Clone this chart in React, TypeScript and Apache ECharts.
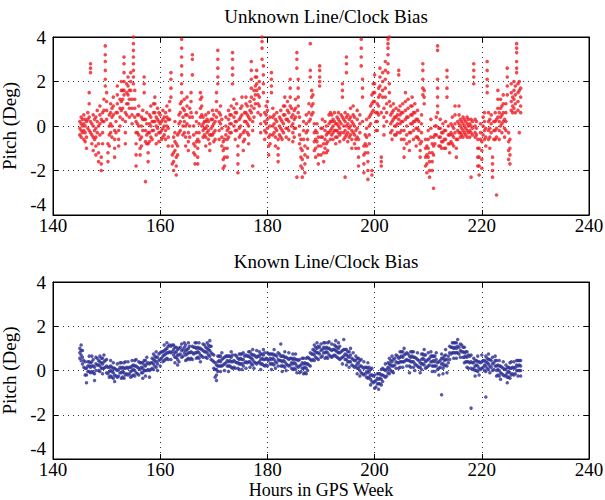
import React, { useEffect, useRef } from "react";
import * as echarts from "echarts";

// Sample columns: one column every COLUMN_STEP hours starting at START_HOUR,
// each column lists the pitch values (deg) read at that time.
const START_HOUR = 145;
const COLUMN_STEP = 0.25;

const X_MIN = 140;
const X_MAX = 240;
const X_INTERVAL = 20;
const Y_MIN = -4;
const Y_MAX = 4;
const Y_INTERVAL = 2;

const TOP_TITLE = "Unknown Line/Clock Bias";
const BOTTOM_TITLE = "Known Line/Clock Bias";
const Y_NAME = "Pitch (Deg)";
const X_NAME = "Hours in GPS Week";

const UNKNOWN_PITCH: number[][] = [
  [0.2,-0.1,-0.4],[0.4,0.1,-0.2,-0.5],[0.0,-0.3,0.3],[-0.6,-0.2,0.1,0.5],
  [0.3,0.0,-0.3,-0.7],[-1.0,-0.5,0.2],[0.6,0.3,-0.1],[1.5,1.0,0.4,-0.2],
  [2.8,2.6,2.4,0.2,-0.3],[0.1,-0.4,-0.8],[0.5,0.0,-0.5,-1.1],[0.3,-0.2,-0.6],
  [0.4,-0.1,-0.5,-0.9,-1.3],[0.7,0.2,-0.3],[-0.8,-1.2,-1.6,0.0],[0.9,0.5,0.1,-0.4],
  [-1.4,-1.7,-2.0,0.3],[0.6,0.2,-0.3,-0.8],[1.2,0.7,0.2],[3.6,3.2,2.9,2.5,2.1,1.8],
  [1.5,1.1,0.7,0.3],[-0.8,-1.2,-1.6],[0.5,0.0,-0.4,-0.9],[1.0,0.6,0.1,-0.3],
  [0.8,0.4,0.0,-0.5],[1.3,0.9,0.5],[-0.2,-0.6,-1.0,-1.4],[0.6,0.2,-0.3],
  [1.8,1.4,1.0,0.6],[-0.2,-0.6,-0.9],[1.2,0.8,0.4,0.0],[2.0,1.6,1.1,0.7],
  [1.6,1.2,0.8,0.3],[3.1,2.8,2.4,2.0,1.6,1.4],[0.6,0.2,-0.3,-0.8],[1.9,1.5,1.0,0.5],
  [2.2,1.8,1.4,1.0],[1.6,1.2,0.8,0.4],[2.4,2.0,1.6],[1.2,0.8,0.5,0.1],
  [4.0,3.7,3.4,3.1,2.8,2.5,2.2,1.9],[1.6,1.2,0.8,0.4],[0.2,-0.3,-0.8,-1.3,-1.8],[0.5,0.1,-0.3],
  [0.9,0.5,0.0,-0.4],[-0.6,-1.0,-1.3],[0.4,0.0,-0.5,-0.9],[0.7,0.3,-0.2],
  [2.2,1.9,1.5,0.3],[-2.5,-0.7,-0.2,0.3],[0.6,0.1,-0.4,-0.8],[-0.3,-0.8,-1.2,-1.6],
  [0.5,0.1,-0.3,-0.7],[0.9,0.4,0.0,-0.5],[0.2,-0.2,-0.6],[1.0,0.6,0.2,-0.2],
  [1.3,1.0,0.6,0.2],[0.4,0.0,-0.4,-0.8],[0.8,0.3,-0.1],[-0.3,-0.7,0.2,0.6],
  [0.5,0.1,-0.3],[0.2,-0.2,-0.6],[0.7,0.3,-0.1,-0.5],[0.0,-0.4,0.4],
  [0.6,0.2,-0.2,-0.6],[0.9,0.4,0.0],[0.3,-0.1,-0.5,-0.9],[1.1,0.7,0.3],
  [2.4,2.1,1.7,1.3],[-0.9,-1.3,-1.7],[-1.2,-1.6,-2.0,-0.5],[0.2,-0.3,-0.7,-1.1],
  [-1.4,-1.8,-2.2,-0.8],[-0.4,-0.9,-1.3],[0.5,0.1,-0.3],[1.0,0.6,0.2,-0.2],
  [3.9,3.5,3.1,2.7,2.3,1.9,1.5,1.1],[0.8,0.4,0.0,-0.4],[1.2,0.7,0.2,-0.3],[0.5,0.0,-0.5,-0.9],
  [1.3,0.9,0.5,0.1],[-0.3,-0.7,-1.1],[0.8,0.4,0.0,-0.5],[1.5,1.1,0.6],
  [3.2,3.0,2.3,0.4],[0.0,-0.4,-0.8,-1.2],[-0.9,-1.3,-1.7],[0.2,-0.3,-0.7,0.6],
  [-0.6,-1.0,-1.4,-1.7],[0.1,-0.3,-0.7],[1.5,1.2,0.8,0.4],[1.3,0.9,0.5,0.0],
  [0.4,0.1,-0.2,-0.5],[0.2,-0.1,-0.4],[0.5,0.2,-0.1,-0.5,-0.9],[0.3,0.0,-0.3],
  [0.6,0.2,-0.2,-0.6],[-0.4,-0.8,-1.1],[0.3,-0.1,-0.4],[0.7,0.3,0.0,-0.4],
  [0.5,0.1,-0.3,-0.7],[0.2,-0.2,-0.6],[1.5,1.1,0.7,0.4],[3.4,3.0,2.6,2.2,1.9],
  [0.6,0.2,-0.2,-0.6],[0.9,0.5,0.1],[0.3,-0.1,-0.5,-0.9],[-0.7,-1.1,-1.5,-1.9],
  [-0.6,-1.0,-1.4,-1.8],[0.4,0.0,-0.4],[-0.2,-0.6,-1.0,-1.4],[0.7,0.3,-0.1,-0.5],
  [0.5,0.1,-0.3],[0.9,0.5,0.1,-0.3],[3.3,3.0,2.6,2.3,1.9],[1.2,0.8,0.4,0.0],
  [0.6,0.2,-0.2,-0.6],[1.0,0.6,0.2,-0.2],[-0.9,-1.3,-1.7,-2.1],[0.3,-0.1,-0.5],
  [0.8,0.4,0.0,-0.4],[1.3,0.9,0.5],[-0.3,-0.7,-1.1],[0.6,0.2,-0.2,-0.6],
  [1.3,1.0,0.6,0.2],[0.9,0.5,0.1,-0.3],[0.4,0.0,-0.4,-0.8],[1.1,0.7,0.3],
  [2.9,2.5,2.1,1.7,1.3,0.9,0.6],[-1.8,0.2,-0.2],[1.6,1.2,0.8,0.4],[2.2,1.8,1.4,1.0],
  [2.5,2.2,1.9,1.6],[1.4,1.0,0.6],[2.0,1.7,1.3,0.9],[0.5,0.1,-0.3],
  [4.0,3.8,3.5,3.0],[2.7,2.3,1.9,1.5],[0.6,0.2,-0.2,-0.6],[0.9,0.5,0.1,-0.3],
  [1.1,0.7,0.3,-0.1],[-0.5,-0.9,-1.3],[0.4,0.0,-0.4,-0.8],[2.4,2.1,1.8,1.5],
  [0.8,0.4,0.0,-0.4],[0.5,0.1,-0.3],[0.3,-0.1,-0.5,-0.9],[0.6,0.2,-0.2],
  [-0.6,-1.0,-1.3,-1.6],[0.4,0.0,-0.4],[0.7,0.3,-0.1,-0.5],[0.2,-0.2,-0.6],
  [0.9,0.5,0.1,-0.3],[1.3,0.9,0.5],[0.3,-0.1,-0.5],[1.1,0.7,0.3,-0.1],
  [0.6,0.2,-0.2,-0.6],[2.1,1.7,1.3,0.9],[0.8,0.4,0.0],[-0.3,-0.7,0.5,0.1],
  [0.7,0.3,-0.1,-0.5],[1.2,0.8,0.4,-0.1],[3.3,3.0,2.6,-2.3],[2.1,1.7,1.3,0.9,0.6],
  [0.4,0.0,-0.4,-0.8],[-0.6,-1.0,-1.4,-1.8],[-1.1,-1.5,-1.9,-2.3],[0.2,-0.2,-0.6],
  [-0.9,-1.3,-1.7,-2.1],[0.5,0.1,-0.3],[-0.2,-0.6,-1.0,-1.4],[1.0,0.6,0.2],
  [3.7,2.5,2.2,0.3],[1.6,1.3,0.9,0.5],[1.4,1.0,0.6],[0.1,-0.3,-0.7,-1.1],
  [-0.2,-0.6,-1.0,-1.4],[0.1,-0.3,-0.7],[-0.5,-0.9,-1.3,-1.7],[2.7,2.5,2.2,2.0,1.8],
  [-0.1,-0.5,-0.9,-1.3],[0.3,-0.1,-0.5],[-0.8,-1.2,-1.6],[0.2,-0.2,-0.6,-1.0],
  [0.0,-0.4,-0.8,-1.2],[-0.3,-0.7,-1.1],[0.5,0.1,-0.3],[0.6,0.2,-0.2,-0.6],
  [0.5,0.2,-0.1,-0.4],[0.3,0.0,-0.3,-0.6],[0.6,0.2,-0.2],[0.1,-0.2,-0.5,-0.8],
  [0.4,0.1,-0.2,-0.5],[0.6,0.3,0.0,-0.3],[0.2,-0.1,-0.4,-0.7],[0.5,0.1,-0.3],
  [1.9,1.6,1.3,0.4],[0.3,0.0,-0.3,-0.6],[0.6,0.2,-0.2,-0.5,-2.3],[3.1,2.8,2.4,0.4,0.0,-0.4],
  [0.5,0.1,-0.3,-0.7],[0.3,-0.1,-0.5],[0.8,0.4,0.0,-0.4],[0.2,-0.2,-0.6,-1.0],
  [0.9,0.5,0.1,-0.3],[0.4,0.0,-0.4,-0.8],[-0.2,-0.6,-1.0],[0.7,0.3,-0.1,-0.5],
  [-0.6,-1.0,-1.4,-1.8],[0.5,0.1,-0.3],[3.9,3.5,3.1,2.7],[2.1,1.7,1.3,0.2],
  [-0.9,-1.3,-1.7,-2.1],[-0.4,-0.8,-1.2],[0.3,-0.1,-0.5,-0.9],[-1.2,-1.6,-2.0,-2.4],
  [0.4,0.0,-0.4,-0.8],[0.9,0.5,0.1],[-2.0,-2.2,1.4,1.0,0.6],[1.9,1.5,1.1,0.7],
  [2.3,1.9,1.5,1.1],[0.6,0.2,-0.2],[1.0,0.6,0.2,-0.2],[1.7,1.3,0.9,0.5],
  [2.6,2.2,1.8,1.4],[-1.4,-1.6,-1.8,0.6],[2.4,2.0,1.6,1.3],[0.8,0.4,0.0,-0.4],
  [2.9,2.5,2.1,1.7,1.3],[1.0,0.6,0.2],[3.9,3.7,3.5,3.2,2.8,2.4],[4.0,1.9,1.5,1.1],
  [0.9,0.5,0.1,-0.3],[0.6,0.2,-0.2,-0.6],[1.0,0.7,0.3],[0.4,0.0,-0.4],
  [0.8,0.4,0.0,-0.4],[0.5,0.1,-0.3],[2.5,2.3,0.7,0.3],[0.9,0.5,0.1,-0.3],
  [0.6,0.2,-0.2,-0.6],[1.0,0.6,0.2],[-0.2,-0.6,-1.0,-1.4],[1.5,1.1,0.7,0.3],
  [0.4,0.0,-0.4,-0.8],[1.2,0.8,0.4],[-0.3,-0.7,-1.1],[0.9,0.5,0.1,-0.3],
  [1.3,0.9,0.5,0.1],[0.6,0.2,-0.2,-0.6],[1.0,0.6,0.2],[0.3,-0.1,-0.5,-0.9],
  [0.7,0.3,-0.1,-0.5],[0.2,-0.2,-0.6],[-0.8,-1.1,-1.4],[0.5,0.1,-0.3,-0.7],
  [2.8,2.5,2.1,1.7,1.4],[1.6,1.3,1.0],[-0.6,-1.0,-1.4,-1.8],[-0.9,-1.3,-1.7,-2.1],
  [-0.2,-0.6,-1.0,-1.4],[-1.2,-1.6,-2.0,-2.3],[0.3,-0.1,-0.5],[-0.8,-1.2,-1.6,-2.0],
  [-2.8,-0.5,-0.9,-1.3],[0.0,-0.4,-0.8],[0.4,0.0,-0.4],[3.6,3.4,2.1,1.7,1.3,0.9,0.6],
  [-0.1,-0.5,-0.9],[0.3,-0.1,-0.5,-0.9],[-0.3,-0.7,-1.0],[0.1,-0.3,-0.7],
  [-0.2,-0.6,-1.0],[0.2,-0.2,-0.6,-1.0],[2.5,2.2,1.7,1.3],[0.0,-0.4,-0.8],
  [-0.4,-0.8,-1.2],[0.1,-0.3,-0.7],[0.4,0.0,-0.4,-0.8],[-0.1,-0.5,-0.9],
  [0.9,0.5,0.1,-0.3],[-0.6,-1.0,-1.4],[0.2,-0.2,-0.6],[0.9,0.5,0.1,-0.3],
  [0.3,0.0,-0.3,-0.5],[0.2,-0.1,-0.4],[0.4,0.1,-0.2,-0.5],[0.3,0.0,-0.3],
  [0.2,-0.1,-0.4],[0.4,0.1,-0.2,-0.5],[0.3,0.0,-0.3],[0.1,-0.2,-0.5],
  [0.3,0.0,-0.3,-2.3],[0.2,-0.1,-0.4],[2.8,2.5,2.2,1.9],[0.3,0.0,-0.3,-0.5],
  [0.2,-0.1,-0.4],[-0.6,-1.0,-1.4,-1.8],[-1.0,-1.4,-1.8,-2.2],[0.1,-0.3,-0.6],
  [-0.7,-1.1,-1.5,-1.9],[0.4,0.0,-0.4],[0.6,0.2,-0.2,-0.6],[-0.1,-0.5,-0.9],
  [2.9,2.5,2.1,1.8,1.5],[0.6,0.2,-0.2,-0.6],[0.3,-0.1,-0.5,-1.0],[0.5,0.1,-0.3],
  [-1.4,-1.7,-2.0,-2.3],[0.2,-0.2,-0.6],[0.6,0.2,-0.2,-0.6],[0.3,-0.1,-0.5,-3.1],
  [1.6,1.2,0.8,0.4],[0.6,0.2,-0.2,-0.6],[1.2,0.8,0.4,0.0],[0.9,0.5,0.1,-0.3],
  [1.4,1.0,0.6,0.2],[0.3,-0.1,-0.5],[1.0,0.6,0.2,-0.2],[2.6,2.2,1.8,1.4],
  [-0.3,-0.7,-1.1,-1.5],[-0.6,-1.0,-1.3,-1.7],[1.9,1.5,1.1,0.7],[1.3,0.9,0.6],
  [2.0,1.6,1.2,0.8],[1.8,1.4,1.0,0.6],[3.7,3.5,3.3,2.9,2.6,2.4],[1.9,1.5,1.1,0.7],
  [2.0,1.6,-0.3],[1.7,1.3,0.9,0.6],
];

const KNOWN_PITCH: number[][] = [
  [1.0,0.8,0.55],[1.15,0.9,0.7,0.45],[0.9,0.6,0.3],[0.45,0.15],
  [0.4,0.1,-0.2],[0.1,-0.2,-0.55],[0.4,0.2,-0.05],[0.65,0.4,0.2,-0.05],
  [0.35,0.15,-0.1],[0.65,0.4,0.2,-0.05],[0.5,0.2,-0.1],[0.15,-0.15,-0.45],
  [0.6,0.3,0.0],[0.55,0.25],[0.45,0.25,0.0],[0.65,0.4,0.2,-0.05],
  [0.55,0.35,0.1],[0.55,0.3,0.1,-0.15],[0.7,0.4,0.1],[0.45,0.15],
  [0.5,0.2,-0.1],[0.15,-0.15],[0.15,-0.05,-0.3],[0.45,0.2,0.0,-0.25],
  [0.15,-0.05,-0.3],[0.35,0.1,-0.1,-0.35],[0.1,-0.2,-0.5],[0.05,-0.25],
  [0.3,0.0,-0.3],[0.05,-0.25],[0.35,0.15,-0.1],[0.35,0.1,-0.1,-0.35],
  [0.15,-0.05,-0.3],[0.35,0.1,-0.1,-0.35],[0.4,0.1,-0.2],[0.15,-0.15],
  [0.4,0.1,-0.2],[0.15,-0.15],[0.15,-0.05,-0.3],[0.45,0.2,0.0,-0.25],
  [0.25,0.05,-0.2],[0.45,0.2,0.0,-0.25],[0.5,0.2,-0.1],[0.15,-0.15],
  [0.4,0.1,-0.2],[0.35,0.05],[0.35,0.15,-0.1],[0.35,0.1,-0.1,-0.35],
  [0.45,0.25,0.0],[0.45,0.2,0.0,-0.25],[0.6,0.3,0.0],[0.35,0.05],
  [0.3,0.0,-0.3],[0.35,0.05],[0.55,0.35,0.1],[0.75,0.5,0.3,0.05],
  [0.65,0.45,0.2],[0.85,0.6,0.4,0.15],[0.6,0.3,0.0],[0.75,0.45],
  [0.8,0.5,0.2],[0.85,0.55],[0.85,0.65,0.4],[1.15,0.9,0.7,0.45],
  [0.95,0.75,0.5],[1.25,1.0,0.8,0.55],[1.1,0.8,0.5],[1.15,0.85],
  [1.1,0.8,0.5],[1.15,0.85],[1.15,0.95,0.7],[1.05,0.8,0.6,0.35],
  [1.05,0.85,0.6],[0.95,0.7,0.5,0.25],[1.0,0.7,0.4],[1.05,0.75],
  [1.2,0.9,0.6],[0.95,0.65],[1.25,1.05,0.8],[1.15,0.9,0.7,0.45],
  [0.95,0.75,0.5],[1.25,1.0,0.8,0.55],[1.1,0.8,0.5],[0.85,0.55],
  [1.1,0.8,0.5],[1.05,0.75],[1.25,1.05,0.8],[1.25,1.0,0.8,0.55],
  [1.05,0.85,0.6],[1.25,1.0,0.8,0.55],[1.0,0.7,0.4],[0.95,0.65],
  [1.2,0.9,0.6],[1.15,0.85],[1.05,0.85,0.6],[1.25,1.0,0.8,0.55],
  [1.15,0.95,0.7],[1.35,1.1,0.9,0.65],[1.1,0.8,0.5],[0.75,0.45],
  [0.7,0.4,0.1],[0.35,0.05,-0.3],[0.25,0.05,-0.2,-0.45],[0.65,0.4,0.2,-0.05],
  [0.65,0.45,0.2],[0.65,0.4,0.2,-0.05],[0.8,0.5,0.2],[0.55,0.25],
  [0.6,0.3,0.0],[0.65,0.35],[0.65,0.45,0.2],[0.65,0.4,0.2,-0.05],
  [0.65,0.45,0.2],[0.85,0.6,0.4,0.15],[0.7,0.4,0.1],[0.45,0.15],
  [0.7,0.4,0.1],[0.65,0.35],[0.55,0.35,0.1],[0.75,0.5,0.3,0.05],
  [0.75,0.55,0.3],[0.75,0.5,0.3,0.05],[0.8,0.5,0.2],[0.65,0.35],
  [0.7,0.4,0.1],[0.65,0.35],[0.85,0.65,0.4],[0.85,0.6,0.4,0.15],
  [0.75,0.55,0.3],[0.95,0.7,0.5,0.25],[0.7,0.4,0.1],[0.65,0.35],
  [0.9,0.6,0.3],[0.65,0.35],[0.85,0.65,0.4],[0.75,0.5,0.3,0.05],
  [0.75,0.55,0.3],[0.95,0.7,0.5,0.25],[0.8,0.5,0.2],[0.55,0.25],
  [0.8,0.5,0.2],[0.75,0.45],[0.75,0.55,0.3],[0.75,0.5,0.3,0.05],
  [0.75,0.55,0.3],[0.95,0.7,0.5,0.25],[0.7,0.4,0.1],[0.65,0.35],
  [0.8,0.5,0.2],[0.75,0.45],[1.2,0.65,0.45,0.2],[0.65,0.4,0.2,-0.05],
  [0.65,0.45,0.2],[0.85,0.6,0.4,0.15],[0.6,0.3,0.0],[0.55,0.25],
  [0.8,0.5,0.2],[0.55,0.25],[0.55,0.35,0.1],[0.75,0.5,0.3,0.05],
  [0.55,0.35,0.1],[0.75,0.5,0.3,0.05],[0.5,0.2,-0.1],[0.45,0.15],
  [0.5,0.2,-0.1],[0.25,-0.05],[0.55,0.35,0.1],[0.55,0.3,0.1,-0.15],
  [0.35,0.15,-0.1],[0.55,0.3,0.1,-0.15],[0.6,0.3,0.0],[0.55,0.25],
  [0.8,0.5,0.2],[0.75,0.45],[0.95,0.75,0.5],[1.15,0.9,0.7,0.45],
  [1.05,0.85,0.6],[1.25,1.0,0.8,0.55],[1.1,0.8,0.5],[1.05,0.75],
  [1.2,0.9,0.6],[0.95,0.65],[1.25,1.05,0.8],[1.25,1.0,0.8,0.55],
  [1.05,0.85,0.6],[1.25,1.0,0.8,0.55],[1.3,1.0,0.7],[0.95,0.65],
  [1.2,0.9,0.6],[0.95,0.65],[1.15,0.95,0.7],[1.35,1.1,0.9,0.65],
  [1.05,0.85,0.6],[1.25,1.0,0.8,0.55],[1.1,0.8,0.5],[0.85,0.55],
  [0.9,0.6,0.3],[1.4,0.95,0.65],[0.95,0.75,0.5],[0.95,0.7,0.5,0.25],
  [0.85,0.65,0.4],[0.85,0.6,0.4,0.15],[1.0,0.7,0.4],[0.55,0.25],
  [0.8,0.5,0.2],[0.45,0.15],[0.65,0.45,0.2],[0.55,0.3,0.1,-0.15],
  [0.55,0.35,0.1],[0.45,0.2,0.0,-0.25],[0.5,0.2,-0.1],[0.15,-0.15],
  [0.4,0.1,-0.2],[0.15,-0.15],[0.15,-0.05,-0.3],[0.35,0.1,-0.1,-0.35],
  [0.15,-0.05,-0.3],[0.05,-0.2,-0.4,-0.65],[0.1,-0.2,-0.5],[-0.25,-0.55],
  [-0.2,-0.5,-0.8],[-0.45,-0.75],[-0.15,-0.35,-0.6],[-0.15,-0.4,-0.6,-0.85],
  [-0.15,-0.35,-0.6],[0.05,-0.2,-0.4,-0.65],[0.1,-0.2,-0.5],[0.05,-0.25],
  [0.3,0.0,-0.3],[0.05,-0.25],[0.35,0.15,-0.1],[0.55,0.3,0.1,-0.15],
  [0.45,0.25,0.0],[0.65,0.4,0.2,-0.05],[0.5,0.2,-0.1],[0.55,0.25],
  [0.7,0.4,0.1],[0.65,0.35],[0.55,0.35,0.1],[0.85,0.6,0.4,0.15],
  [0.85,0.65,0.4],[0.85,0.6,0.4,0.15],[1.0,0.7,0.4],[0.75,0.45],
  [0.8,0.5,0.2],[0.75,0.45],[0.65,0.45,0.2,-0.1],[0.85,0.6,0.4,0.15],
  [0.85,0.65,0.4],[0.85,0.6,0.4,0.15],[0.6,0.3,0.0],[0.55,0.25],
  [0.8,0.5,0.2],[0.45,0.15],[0.35,0.15,-0.1],[0.75,0.5,0.3,0.05],
  [0.75,0.55,0.3],[0.95,0.7,0.5,0.25],[0.7,0.4,0.1],[0.45,0.15],
  [0.8,0.5,0.2],[0.55,0.25],[0.85,0.65,0.4],[0.65,0.4,0.2,-0.05],
  [0.65,0.45,0.2],[0.65,0.4,0.2,-0.05],[0.8,0.5,0.2],[0.35,0.05],
  [0.4,0.1,-0.2],[0.45,0.15],[0.75,0.55,0.3,-1.1],[0.55,0.3,0.1,-0.15],
  [0.65,0.45,0.2],[0.95,0.7,0.5,0.25],[0.5,0.2,-0.1],[0.65,0.35],
  [1.1,0.8,0.5],[1.05,0.75],[1.25,1.05,0.8],[1.25,1.0,0.8,0.55],
  [1.25,1.05,0.8],[1.25,1.0,0.8,0.55],[1.4,1.1,0.8],[1.05,0.75],
  [1.2,0.9,0.6],[1.15,0.85],[1.05,0.85,0.6],[1.05,0.8,0.6,0.35],
  [0.85,0.65,0.4],[0.85,0.6,0.4,0.15],[0.7,0.4,0.1],[0.65,0.35],
  [0.7,0.4,0.1,-1.7],[0.35,0.05],[0.55,0.35,0.1],[0.45,0.2,0.0,-0.25],
  [0.45,0.25,0.0],[0.65,0.4,0.2,-0.05],[0.4,0.1,-0.2],[0.35,0.05],
  [0.7,0.4,0.1],[0.45,0.15],[0.45,0.25,0.0],[0.65,0.4,0.2,-0.05,-1.2],
  [0.55,0.35,0.1],[0.75,0.5,0.3,0.05],[0.5,0.2,-0.1],[0.45,0.15],
  [0.6,0.3,0.0],[0.35,0.05],[0.65,0.45,0.2],[0.45,0.2,0.0,-0.25],
  [0.25,0.05,-0.2],[0.45,0.2,0.0,-0.25],[0.2,-0.1,-0.4],[0.15,-0.15],
  [0.4,0.1,-0.2],[0.05,-0.25],[0.25,0.05,-0.2],[0.15,-0.1,-0.3,-0.55],
  [0.15,-0.05,-0.3],[0.35,0.1,-0.1,-0.35],[0.4,0.1,-0.2],[0.15,-0.15],
  [0.4,0.1,-0.2],[0.15,-0.15],[0.45,0.25,0.0],[0.45,0.2,0.0,-0.25],
  [0.45,0.25,0.0],[0.45,0.2,0.0,-0.25],
];

const RED = "#ed1c24";
const NAVY = "#2e3192";
const FONT = "'Liberation Serif', 'Times New Roman', serif";

function toPoints(columns: number[][]): number[][] {
  const pts: number[][] = [];
  columns.forEach((col, i) => {
    const hour = START_HOUR + i * COLUMN_STEP;
    col.forEach((v) => pts.push([hour, v]));
  });
  return pts;
}

export default function App() {
  const ref = useRef<HTMLDivElement>(null);

  useEffect(() => {
    if (!ref.current) return;
    const chart = echarts.init(ref.current, undefined, { renderer: "svg" });
    const text = { color: "#000", fontFamily: FONT, fontSize: 19 };
    const grid = (top: number, height: number) => ({
      left: 53,
      right: 16,
      top,
      height,
      show: true,
      borderColor: "#000",
      borderWidth: 1,
      backgroundColor: "#fff",
      containLabel: false,
      outerBoundsMode: "none",
    });
    const split = { show: true, lineStyle: { color: "#333", type: [1, 4], width: 1 } };
    const xAxis = (gridIndex: number, position: string, main: boolean, name?: string) => ({
      type: "value",
      gridIndex,
      position,
      min: X_MIN,
      max: X_MAX,
      interval: X_INTERVAL,
      name: name || "",
      nameLocation: "middle",
      nameGap: 21.5,
      nameMoveOverlap: false,
      nameTextStyle: { ...text, fontSize: 18, lineHeight: 18 },
      axisLine: { show: true, onZero: false, lineStyle: { color: "#000", width: 1 } },
      axisTick: { show: true, inside: true, length: 5, lineStyle: { color: "#000" } },
      axisLabel: { show: main, ...text, lineHeight: 14, margin: 3 },
      splitLine: main ? split : { show: false },
    });
    const yAxis = (gridIndex: number, position: string, main: boolean) => ({
      type: "value",
      gridIndex,
      position,
      min: Y_MIN,
      max: Y_MAX,
      interval: Y_INTERVAL,
      name: main ? Y_NAME : "",
      nameLocation: "middle",
      nameGap: 26,
      nameRotate: 90,
      nameTextStyle: text,
      axisLine: { show: true, onZero: false, lineStyle: { color: "#000", width: 1 } },
      axisTick: { show: true, inside: true, length: 5, lineStyle: { color: "#000" } },
      axisLabel: {
        show: main,
        ...text,
        lineHeight: 12,
        margin: 7,
        formatter: (v: number) => (v === Y_MIN ? `{lo|${v}}` : `${v}`),
        rich: { lo: { ...text, lineHeight: 12, padding: [0, 0, 22, 0] } },
      },
      splitLine: main ? split : { show: false },
    });

    chart.setOption({
      animation: false,
      backgroundColor: "#fff",
      title: [
        {
          text: TOP_TITLE,
          left: 321,
          top: 2,
          textAlign: "center",
          textStyle: { ...text, fontWeight: "normal" },
        },
        {
          text: BOTTOM_TITLE,
          left: 321,
          top: 247,
          textAlign: "center",
          textStyle: { ...text, fontWeight: "normal" },
        },
      ],
      grid: [grid(37, 178), grid(282, 177)],
      xAxis: [
        xAxis(0, "bottom", true),
        xAxis(0, "top", false),
        xAxis(1, "bottom", true, X_NAME),
        xAxis(1, "top", false),
      ],
      yAxis: [
        yAxis(0, "left", true),
        yAxis(0, "right", false),
        yAxis(1, "left", true),
        yAxis(1, "right", false),
      ],
      series: [
        {
          type: "scatter",
          xAxisIndex: 0,
          yAxisIndex: 0,
          symbol: "circle",
          symbolSize: 3.6,
          silent: true,
          itemStyle: { color: RED },
          data: toPoints(UNKNOWN_PITCH),
        },
        {
          type: "scatter",
          xAxisIndex: 2,
          yAxisIndex: 2,
          symbol: "circle",
          symbolSize: 3.5,
          silent: true,
          itemStyle: { color: NAVY },
          data: toPoints(KNOWN_PITCH),
        },
      ],
    });
    return () => chart.dispose();
  }, []);

  return (
    <div
      ref={ref}
      style={{ position: "fixed", left: 0, top: 0, width: 605, height: 500, background: "#fff" }}
    />
  );
}
